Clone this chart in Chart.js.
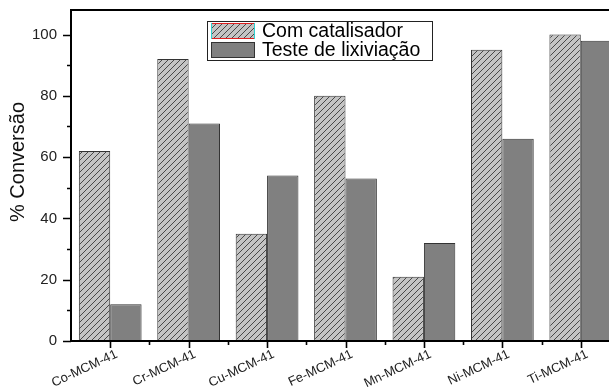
<!DOCTYPE html>
<html>
<head>
<meta charset="utf-8">
<script src="https://cdn.jsdelivr.net/npm/chart.js@4.4.1/dist/chart.umd.min.js"></script>
<style>
  html, body { margin: 0; padding: 0; background: #fff; overflow: hidden; }
  #wrap { width: 609px; height: 387px; overflow: hidden; position: relative; }
  canvas { display: block; }
</style>
</head>
<body>
<div id="wrap"><canvas id="chart" width="640" height="387"></canvas></div>
<script>
const categories = ['Co-MCM-41', 'Cr-MCM-41', 'Cu-MCM-41', 'Fe-MCM-41', 'Mn-MCM-41', 'Ni-MCM-41', 'Ti-MCM-41'];
const comCatalisador = [62, 92, 35, 80, 21, 95, 100];
const testeLixiviacao = [12, 71, 54, 53, 32, 66, 98];
const yMajorTicks = [0, 20, 40, 60, 80, 100];
const yMinorTicks = [10, 30, 50, 70, 90];
const seriesNames = ['Com catalisador', 'Teste de lixiviação'];
const yTitle = '% Conversão';

const FONT = "'Liberation Sans', Arial, sans-serif";

// diagonal hatch fill for the catalyst series
function makeHatch() {
  const s = 6;
  const c = document.createElement('canvas');
  c.width = s; c.height = s;
  const g = c.getContext('2d');
  g.fillStyle = '#c4c4c4';
  g.fillRect(0, 0, s, s);
  g.strokeStyle = '#3a3a3a';
  g.lineWidth = 0.9;
  g.beginPath();
  g.moveTo(-1, s + 1); g.lineTo(s + 1, -1);
  g.moveTo(-1, 1); g.lineTo(1, -1);
  g.moveTo(s - 1, s + 1); g.lineTo(s + 1, s - 1);
  g.stroke();
  return g.createPattern(c, 'repeat');
}
const hatch = makeHatch();
const DARK = '#808080';

const axisDecor = {
  id: 'axisDecor',
  afterDraw(chart) {
    const ctx = chart.ctx;
    const xs = chart.scales.x, ys = chart.scales.y;
    const area = chart.chartArea;
    ctx.save();
    ctx.strokeStyle = '#000';
    ctx.lineWidth = 2;
    // top frame line
    ctx.beginPath();
    ctx.moveTo(area.left - 1, area.top);
    ctx.lineTo(chart.width, area.top);
    ctx.stroke();
    ctx.lineWidth = 1.6;
    // y ticks
    ctx.beginPath();
    yMajorTicks.forEach(v => {
      const y = Math.round(ys.getPixelForValue(v)) + 0.5;
      ctx.moveTo(area.left - 8, y); ctx.lineTo(area.left, y);
    });
    yMinorTicks.forEach(v => {
      const y = Math.round(ys.getPixelForValue(v)) + 0.5;
      ctx.moveTo(area.left - 4, y); ctx.lineTo(area.left, y);
    });
    // x ticks
    categories.forEach((c, i) => {
      const x = Math.round(xs.getPixelForValue(i)) + 0.5;
      ctx.moveTo(x, area.bottom); ctx.lineTo(x, area.bottom + 7);
      if (i < categories.length - 1) {
        const xm = Math.round(xs.getPixelForValue(i + 0.5)) + 0.5;
        ctx.moveTo(xm, area.bottom); ctx.lineTo(xm, area.bottom + 4);
      }
    });
    ctx.stroke();

    // slanted category labels
    ctx.fillStyle = '#222';
    ctx.font = '13px ' + FONT;
    ctx.textAlign = 'right';
    ctx.textBaseline = 'alphabetic';
    categories.forEach((c, i) => {
      const x = xs.getPixelForValue(i);
      ctx.save();
      ctx.translate(x + 8, area.bottom + 16);
      ctx.rotate(-25 * Math.PI / 180);
      ctx.fillText(c, 0, 0);
      ctx.restore();
    });

    // y axis title
    ctx.fillStyle = '#111';
    ctx.font = '20px ' + FONT;
    ctx.textAlign = 'center';
    ctx.textBaseline = 'middle';
    ctx.translate(18, 162);
    ctx.rotate(-Math.PI / 2);
    ctx.fillText(yTitle, 0, 0);
    ctx.restore();

    // legend box
    ctx.save();
    const bx = 207.5, by = 21.5, bw = 225, bh = 39;
    ctx.fillStyle = '#fff';
    ctx.fillRect(bx, by, bw, bh);
    ctx.strokeStyle = '#222';
    ctx.lineWidth = 1;
    ctx.strokeRect(bx, by, bw, bh);
    // swatch 1 (hatched)
    ctx.fillStyle = hatch;
    ctx.fillRect(211, 23, 44, 16);
    ctx.strokeStyle = '#e02020';
    ctx.beginPath();
    ctx.moveTo(211, 23.5); ctx.lineTo(255, 23.5);
    ctx.moveTo(211, 38.5); ctx.lineTo(255, 38.5);
    ctx.stroke();
    ctx.strokeStyle = '#30d0d0';
    ctx.beginPath();
    ctx.moveTo(211.5, 23); ctx.lineTo(211.5, 39);
    ctx.moveTo(254.5, 23); ctx.lineTo(254.5, 39);
    ctx.stroke();
    // swatch 2 (solid)
    ctx.fillStyle = DARK;
    ctx.fillRect(211, 42, 44, 16);
    ctx.strokeStyle = '#333';
    ctx.strokeRect(211.5, 42.5, 43, 15);
    // legend labels
    ctx.fillStyle = '#000';
    ctx.font = '19.5px ' + FONT;
    ctx.textAlign = 'left';
    ctx.textBaseline = 'middle';
    ctx.fillText(seriesNames[0], 262, 31.5);
    ctx.fillText(seriesNames[1], 262, 50.5);
    ctx.restore();
  }
};

new Chart(document.getElementById('chart'), {
  type: 'bar',
  data: {
    labels: categories,
    datasets: [
      {
        label: seriesNames[0],
        data: comCatalisador,
        backgroundColor: hatch,
        borderColor: '#333',
        borderWidth: 1,
        categoryPercentage: 0.8,
        barPercentage: 1.0
      },
      {
        label: seriesNames[1],
        data: testeLixiviacao,
        backgroundColor: DARK,
        borderColor: '#333',
        borderWidth: 1,
        categoryPercentage: 0.8,
        barPercentage: 1.0
      }
    ]
  },
  options: {
    responsive: false,
    devicePixelRatio: 1,
    animation: false,
    layout: { padding: { left: 0, top: 10, right: 20, bottom: 0 } },
    plugins: {
      legend: { display: false },
      tooltip: { enabled: false }
    },
    scales: {
      x: {
        type: 'category',
        offset: true,
        grid: { display: false },
        border: { display: true, color: '#000', width: 2, z: 1 },
        ticks: { display: false },
        afterFit(scale) {
          scale.height = 46;
          scale.paddingLeft = 0; scale.paddingRight = 0;
          scale.paddingTop = 0; scale.paddingBottom = 0;
        }
      },
      y: {
        min: 0,
        max: 108,
        grid: { display: false },
        border: { display: true, color: '#000', width: 2, z: 1 },
        ticks: {
          stepSize: 10,
          padding: 6,
          color: '#222',
          font: { family: FONT, size: 15 },
          callback: v => (yMajorTicks.includes(v) ? String(v) : '')
        },
        afterFit(scale) {
          scale.width = 71;
          scale.paddingTop = 0; scale.paddingBottom = 0;
          scale.paddingLeft = 0; scale.paddingRight = 0;
        }
      }
    }
  },
  plugins: [axisDecor]
});
</script>
</body>
</html>
